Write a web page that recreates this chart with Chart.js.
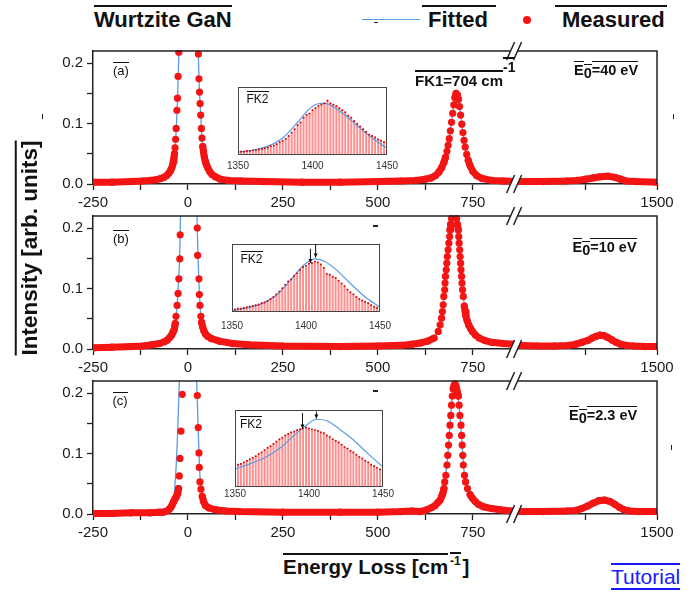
<!DOCTYPE html>
<html>
<head>
<meta charset="utf-8">
<script src="https://cdn.jsdelivr.net/npm/chart.js@4.4.0/dist/chart.umd.min.js"></script>
<style>
  body { margin: 0; width: 700px; height: 594px; position: relative; overflow: hidden; background: #fff;
         font-family: "Liberation Sans", Arial, sans-serif; color: #111; }
  canvas { position: absolute; }
  .t { position: absolute; white-space: nowrap; line-height: 1; }
  .ol { border-top: 2px solid #111; }
  .ol1 { border-top: 1.5px solid #111; }
  .b { font-weight: bold; }
  .mk { position: absolute; background: #222; }
</style>
</head>
<body>
<canvas id="panelA"></canvas>
<canvas id="panelB"></canvas>
<canvas id="panelC"></canvas>
<canvas id="insetA"></canvas>
<canvas id="insetB"></canvas>
<canvas id="insetC"></canvas>

<!-- legend row -->
<div class="t b" style="left:94px;top:9px;font-size:22px"><span class="ol">Wurtzite GaN</span></div>
<div style="position:absolute;left:362px;top:18.5px;width:58px;height:1.5px;background:#5b9be0"></div>
<div class="mk" style="left:374px;top:21.5px;width:4px;height:1.5px"></div>
<div class="t b" style="left:422px;top:9px;font-size:22px"><span class="ol" style="padding:0 8px 0 6px">Fitted</span></div>
<div style="position:absolute;left:522.5px;top:16px;width:8px;height:8px;border-radius:50%;background:#f41414"></div>
<div class="t b" style="left:555px;top:9px;font-size:22px"><span class="ol" style="padding:0 2px 0 7px">Measured</span></div>

<!-- panel annotations -->
<div class="t" style="left:113px;top:64.3px;font-size:13px"><span class="ol1">(a)</span></div>
<div class="t" style="left:113px;top:232.3px;font-size:13px"><span class="ol1">(b)</span></div>
<div class="t" style="left:112.5px;top:394.3px;font-size:13px"><span class="ol1">(c)</span></div>

<div class="t b" style="left:574px;top:63px;font-size:14.5px"><span class="ol1">E</span><span class="ol1" style="position:relative;top:3px">0</span><span class="ol1">=40 eV</span></div>
<div class="t b" style="left:572.5px;top:240px;font-size:14.5px"><span class="ol1">E</span><span class="ol1" style="position:relative;top:3px">0</span><span class="ol1">=10 eV</span></div>
<div class="t b" style="left:569px;top:408px;font-size:14.5px"><span class="ol1">E</span><span class="ol1" style="position:relative;top:3px">0</span><span class="ol1">=2.3 eV</span></div>

<div class="t b" style="left:415px;top:73px;font-size:15px"><span class="ol">FK1=704 cm</span></div>
<div class="t b" style="left:503px;top:60.2px;font-size:14px"><span class="ol">-1</span></div>

<div class="t" style="left:246.5px;top:93.4px;font-size:12px"><span class="ol1">FK2</span></div>
<div class="t" style="left:240.5px;top:253.4px;font-size:12px"><span class="ol1">FK2</span></div>
<div class="t" style="left:240px;top:418.4px;font-size:12px"><span class="ol1">FK2</span></div>

<!-- axis titles -->
<div class="t b" style="left:30px;top:247.5px;font-size:22.5px;transform:translate(-50%,-50%) rotate(-90deg)"><span class="ol">Intensity [arb. units]</span></div>
<div class="t b" style="left:283px;top:556.5px;font-size:20.5px"><span class="ol">Energy Loss [cm</span></div>
<div class="t b" style="left:450px;top:555.4px;font-size:12px"><span class="ol">-1</span></div>
<div class="t b" style="left:462.5px;top:556.5px;font-size:20.5px">]</div>

<div class="t" style="left:611px;top:565.8px;font-size:21px;color:#1a1aff"><span style="border-top:2px solid #1a1aff;border-bottom:2px solid #1a1aff">Tutorial</span></div>

<!-- stray marks of the original -->
<div class="mk" style="left:41.5px;top:114px;width:1.5px;height:5px"></div>
<div class="mk" style="left:672.5px;top:114px;width:1.5px;height:5px"></div>
<div class="mk" style="left:670.5px;top:445px;width:1.5px;height:5px"></div>
<div class="mk" style="left:373px;top:225px;width:5px;height:1.5px"></div>
<div class="mk" style="left:373px;top:390px;width:5px;height:1.5px"></div>

<script>
Chart.defaults.font.family = '"Liberation Sans", Arial, sans-serif'
Chart.defaults.color = '#1a1a1a'

// ---- x axis with a break: left part ends at BREAK_LO, right part starts at BREAK_HI (drawn 1.5x wider)
const BREAK_LO = 860
const BREAK_HI = 1250
const RIGHT_STRETCH = 1.5
const xTickLabels = [-250, 0, 250, 500, 750, 1500]
const xMinorTicks = [-125, 125, 375, 625, 1375]
const yTicks = [0, 0.05, 0.1, 0.15, 0.2]
const yTickLabels = [0, 0.1, 0.2]
const insetTicks = [1350, 1400, 1450]

// ---- measured spectra [energy loss cm-1, intensity]
const measuredA = [
  [-250,.003],[-200,.003],[-150,.004],[-120,.005],[-100,.006],[-85,.007],[-72,.009],[-63,.011],[-56,.014],
  [-50,.018],[-46,.022],[-43,.026],[-40.5,.031],[-38.5,.037],[-37,.043],[-35.5,.050],[-34,.060],[-32.5,.074],
  [-31,.092],[-29,.122],[-27.5,.142],[-26,.178],[-24,.218],[-23,.25],
  [27,.25],[27.5,.215],[29,.174],[30.5,.152],[32,.133],[33.5,.114],[35.5,.092],[37,.076],[39,.062],[41,.053],
  [43,.045],[45.5,.038],[48.5,.032],[52,.027],[57,.021],[63,.016],[72,.012],[85,.008],[105,.006],[140,.005],
  [200,.004],[300,.003],[400,.003],[500,.004],[560,.005],[600,.006],[625,.008],
  [640,.010],[652,.014],[661,.020],[668,.027],[674,.036],[678,.044],[682,.054],[685,.064],[688,.075],[691,.088],
  [694,.102],[697,.117],[700,.131],[703,.143],[706,.150],[709,.148],[712,.140],[715,.128],[718,.114],[721,.099],
  [724,.085],[727,.072],[730,.061],[734,.049],[738,.039],[743,.030],[750,.021],[760,.014],[775,.009],[800,.006],
  [830,.005],[860,.004],
  [1250,.004],[1300,.004],[1340,.005],[1360,.006],[1375,.008],[1388,.010],[1400,.012],[1414,.013],[1426,.011],
  [1436,.008],[1446,.005],[1465,.004],[1500,.003]
]
const measuredB = [
  [-250,.002],[-200,.003],[-150,.004],[-118,.005],[-95,.007],[-75,.009],[-62,.012],[-54,.015],[-48,.019],
  [-43,.023],[-40,.027],[-37,.031],[-35,.036],[-33.5,.042],[-31.5,.054],[-28.5,.072],[-26,.092],[-24,.116],
  [-21.5,.149],[-20.5,.189],[-19.5,.24],
  [24,.24],[24.5,.200],[25.5,.155],[29,.116],[30,.090],[31.6,.072],[34,.054],[36,.044],[38.5,.037],[42,.030],
  [46,.025],[52,.021],[62,.017],[83,.013],[118,.009],[160,.007],[250,.005],[400,.004],[500,.005],[560,.006],
  [590,.008],
  [613,.010],[631,.013],[648,.018],[659,.029],[664,.040],[667.6,.051],[670,.062],[672,.073],[673.6,.087],
  [676,.098],[677,.109],[678,.120],[680,.131],[681.6,.142],[683,.153],[685,.164],[687,.175],[689,.186],
  [690,.197],[691.6,.206],[694,.216],[697,.232],[700,.245],[704,.235],[707.4,.216],[709.5,.206],[711.8,.197],
  [713,.186],[714,.175],[715.5,.164],[716.7,.153],[718,.142],[719,.131],[720.5,.120],[721.6,.109],[723,.098],
  [725,.087],[727.6,.071],[730,.062],[732,.054],[735,.047],[739,.040],[744,.034],[749,.029],[757,.023],
  [767,.018],[782,.014],[800,.011],[830,.009],[860,.008],
  [1250,.006],[1290,.005],[1320,.005],[1345,.006],[1358,.008],[1368,.011],[1378,.014],[1386,.018],[1393,.021],
  [1400,.023],[1407,.022],[1414,.019],[1421,.015],[1428,.011],[1436,.008],[1446,.006],[1460,.005],[1480,.004],
  [1500,.004]
]
const measuredC = [
  [-250,.001],[-200,.001],[-150,.002],[-100,.002],[-75,.003],[-65,.003],[-55,.005],[-49,.008],[-45,.011],
  [-41,.016],[-38,.020],[-35,.024],[-32,.027],[-29.5,.030],[-27,.034],[-24.6,.042],[-22.8,.063],[-21,.092],
  [-18.4,.137],[-15,.198],[-13,.24],
  [23,.24],[24.6,.196],[27.2,.143],[29,.101],[29.8,.077],[31.6,.053],[34.2,.041],[37.7,.029],[41,.021],
  [46,.014],[55,.010],[73,.007],[100,.005],[135,.004],[250,.003],[400,.003],[500,.003],[560,.004],[590,.005],
  [611,.004],[629,.007],[643,.011],[651,.014],[658,.019],[664,.023],[668,.029],[671,.034],[674,.042],[676,.053],
  [679,.064],[682,.081],[684,.097],[686,.114],[688,.130],[690,.147],[692,.163],[694,.180],[696,.195],
  [698.5,.207],[701,.213],[703,.215],[705,.213],[707.5,.207],[710,.200],[712,.195],[714,.180],[716,.163],
  [719,.147],[720.6,.130],[722,.114],[723.5,.097],[725,.081],[728,.064],[731,.053],[736,.042],[743,.032],
  [749,.026],[756,.021],[765,.016],[778,.012],[800,.009],[822,.007],[848,.005],[860,.005],
  [1250,.004],[1300,.004],[1340,.005],[1358,.006],[1368,.009],[1378,.013],[1388,.018],[1398,.022],[1408,.023],
  [1417,.021],[1426,.016],[1434,.011],[1442,.007],[1452,.005],[1470,.004],[1500,.004]
]

// ---- fitted curves
const fittedA = [
  [-250,.003],[-150,.004],[-100,.006],[-72,.009],[-56,.014],[-46,.022],[-40,.032],[-36,.046],[-33,.066],
  [-30.5,.095],[-28,.13],[-25.5,.18],[-23.5,.23],[-20,.33],[-12,.8],[0,1.6],[14,.8],[22,.36],[26,.25],
  [29,.174],[32,.133],[35.5,.092],[39,.062],[43,.045],[52,.027],[63,.016],[85,.008],[140,.005],[300,.003],
  [500,.004],[600,.006],[640,.010],[661,.020],[674,.036],[685,.064],[694,.102],[700,.131],[706,.150],
  [712,.140],[718,.114],[727,.072],[738,.039],[750,.021],[775,.009],[830,.005],[860,.004],
  [1250,.004],[1340,.005],[1375,.008],[1400,.012],[1412,.013],[1426,.011],[1446,.005],[1500,.003]
]
const fittedB = [
  [-250,.002],[-150,.004],[-95,.007],[-62,.012],[-48,.019],[-40,.027],[-35,.037],[-32,.050],[-29,.068],
  [-26.5,.090],[-24.5,.115],[-22,.150],[-20.5,.190],[-19,.25],[-12,.6],[0,1.6],[14,.6],[22.5,.26],[24.5,.2],
  [26.5,.155],[28.5,.116],[30.5,.090],[32,.072],[34,.054],[37,.040],[42,.030],[52,.021],[83,.013],[160,.007],
  [400,.004],[560,.006],[613,.010],[648,.018],[664,.040],[672,.073],[680,.131],[689,.186],[694,.216],
  [700,.25],[707,.216],[713,.186],[719,.131],[725,.087],[732,.054],[744,.034],[767,.018],[800,.011],[860,.008],
  [1250,.006],[1320,.005],[1350,.007],[1370,.012],[1385,.018],[1397,.023],[1407,.025],[1417,.022],[1428,.014],
  [1440,.008],[1460,.005],[1500,.004]
]
const fittedC = [
  [-250,.001],[-150,.002],[-90,.003],[-65,.005],[-52,.008],[-44,.012],[-39,.020],[-36,.032],[-34,.050],
  [-31,.080],[-28,.120],[-25,.175],[-22.8,.218],[-20,.3],[-10,.9],[0,1.6],[12,.7],[21,.28],[23,.22],
  [25.5,.17],[28,.12],[31,.070],[34,.045],[38,.030],[42,.020],[48,.013],[73,.007],[135,.004],[400,.003],
  [560,.004],[611,.005],[643,.011],[664,.023],[676,.053],[684,.097],[690,.147],[696,.195],[703,.216],
  [710,.200],[716,.163],[722,.114],[728,.064],[736,.042],[749,.026],[778,.012],[848,.005],[860,.005],
  [1250,.004],[1340,.005],[1368,.009],[1388,.018],[1405,.024],[1417,.022],[1434,.012],[1452,.005],[1500,.004]
]

// ---- FK2 insets: bar heights (fraction of inset height) at each shift
const fk2Shift = [1350,1352,1354,1356,1358,1360,1362,1364,1366,1368,1370,1372,1374,1376,1378,1380,1382,1384,
  1386,1388,1390,1392,1394,1396,1398,1400,1402,1404,1406,1408,1410,1412,1414,1416,1418,1420,1422,1424,1426,
  1428,1430,1432,1434,1436,1438,1440,1442,1444,1446,1448,1450]
const fk2BarsA = [.04,.05,.05,.06,.06,.07,.07,.08,.09,.10,.11,.13,.14,.16,.19,.21,.24,.28,.33,.38,.44,.48,
  .55,.59,.61,.66,.69,.72,.74,.76,.80,.76,.74,.72,.69,.66,.63,.58,.55,.50,.46,.42,.38,.34,.30,.28,.26,.23,.21,.19,.17]
const fk2BarsB = [.03,.04,.05,.05,.06,.07,.08,.09,.10,.11,.13,.14,.16,.19,.22,.26,.30,.35,.40,.45,.48,.53,
  .57,.62,.66,.68,.71,.72,.74,.73,.70,.65,.56,.55,.52,.50,.46,.42,.38,.33,.29,.26,.22,.19,.17,.15,.13,.10,.08,.06,.05]
const fk2BarsC = [.28,.29,.30,.32,.34,.36,.38,.40,.43,.45,.48,.51,.53,.56,.59,.62,.64,.67,.69,.71,.72,.74,
  .75,.76,.77,.76,.75,.74,.73,.71,.70,.67,.65,.62,.60,.58,.55,.52,.50,.47,.45,.42,.39,.37,.34,.32,.29,.27,.25,.23,.21]
const fk2FitA = [[1350,.04],[1360,.07],[1370,.13],[1380,.25],[1390,.48],[1397,.66],[1403,.75],[1408,.76],
  [1413,.72],[1420,.62],[1430,.43],[1440,.25],[1450,.10]]
const fk2FitB = [[1350,.02],[1360,.06],[1370,.12],[1380,.25],[1390,.48],[1398,.68],[1406,.78],[1413,.74],
  [1420,.63],[1430,.42],[1440,.22],[1450,.07]]
const fk2FitC = [[1350,.23],[1360,.30],[1370,.38],[1380,.50],[1390,.67],[1398,.80],[1405,.88],[1412,.86],
  [1420,.76],[1430,.61],[1440,.43],[1450,.26]]
// marker arrows in the insets: [shift, from, to]
const fk2ArrowsB = [[1403,.93,.72],[1406.5,1.0,.80]]
const fk2ArrowsC = [[1395.6,.96,.76],[1405,.98,.89]]

const RED = '#f41414'
const BLUE = '#5b9be0'

function toAxis(x) {
  return x <= BREAK_LO ? x : BREAK_LO + (x - BREAK_HI) * RIGHT_STRETCH
}
function fromAxis(u) {
  return u <= BREAK_LO ? u : BREAK_HI + (u - BREAK_LO) / RIGHT_STRETCH
}
function toPoints(list) {
  return list.map(p => ({x: toAxis(p[0]), y: p[1]}))
}
// dots that overlap are joined by a thick line, steep sparse ones stay separate
function joinIfClose(ctx) {
  const dx = Math.abs(ctx.p1.x - ctx.p0.x)
  const dy = Math.abs(ctx.p1.y - ctx.p0.y)
  return (dy < 6 || dy < dx) ? RED : 'transparent'
}

const framePlugin = {
  id: 'frame',
  afterDraw(chart) {
    const {ctx, chartArea: a} = chart
    const bx = chart.scales.x.getPixelForValue(BREAK_LO)
    ctx.save()
    ctx.strokeStyle = '#222'
    ctx.lineWidth = 1.5
    ctx.beginPath()
    ctx.moveTo(a.left, a.top)
    ctx.lineTo(a.right, a.top)
    ctx.lineTo(a.right, a.bottom)
    ctx.stroke()
    // axis break marks
    for (const y of [a.top, a.bottom]) {
      ctx.fillStyle = '#fff'
      ctx.beginPath()
      ctx.moveTo(bx - 8, y + 9)
      ctx.lineTo(bx, y - 9)
      ctx.lineTo(bx + 7, y - 9)
      ctx.lineTo(bx - 1, y + 9)
      ctx.closePath()
      ctx.fill()
      ctx.beginPath()
      ctx.moveTo(bx - 8, y + 9); ctx.lineTo(bx, y - 9)
      ctx.moveTo(bx - 1, y + 9); ctx.lineTo(bx + 7, y - 9)
      ctx.stroke()
    }
    ctx.restore()
  }
}

const PANEL_H = 133
function makePanel(id, top, measured, fitted) {
  const cv = document.getElementById(id)
  cv.width = 700
  cv.height = 14 + PANEL_H + 32
  cv.style.left = '0px'
  cv.style.top = (top - 14) + 'px'
  new Chart(cv, {
    type: 'line',
    data: {
      datasets: [{
        data: toPoints(measured),
        borderColor: RED,
        borderWidth: 7,
        borderCapStyle: 'round',
        borderJoinStyle: 'round',
        pointRadius: 3.6,
        pointBackgroundColor: RED,
        pointBorderWidth: 0,
        tension: 0,
        segment: {borderColor: joinIfClose},
        clip: {left: 0, top: 1, right: 0, bottom: 8}
      }, {
        data: toPoints(fitted),
        borderColor: BLUE,
        borderWidth: 1.3,
        pointRadius: 0,
        cubicInterpolationMode: 'monotone',
        clip: {left: 0, top: 0, right: 0, bottom: 2}
      }]
    },
    options: {
      responsive: false,
      animation: false,
      events: [],
      layout: {padding: {top: 14, right: 43, left: 0, bottom: 0}},
      plugins: {legend: {display: false}, tooltip: {enabled: false}},
      scales: {
        x: {
          type: 'linear',
          min: toAxis(-250),
          max: toAxis(1500),
          afterFit: s => { s.height = 32 },
          afterBuildTicks: s => {
            s.ticks = xTickLabels.concat(xMinorTicks).sort((a, b) => a - b).map(v => ({value: toAxis(v)}))
          },
          ticks: {
            autoSkip: false, maxRotation: 0, padding: 4,
            font: {size: 15}, color: '#1a1a1a',
            callback: v => {
              const x = Math.round(fromAxis(v))
              return xTickLabels.includes(x) ? String(x) : ''
            }
          },
          grid: {drawOnChartArea: false, tickLength: 6, tickWidth: 1.3, tickColor: '#222'},
          border: {color: '#222', width: 1.5}
        },
        y: {
          min: 0,
          max: 0.22,
          afterFit: s => { s.width = 93 },
          afterBuildTicks: s => { s.ticks = yTicks.map(v => ({value: v})) },
          ticks: {
            padding: 4, font: {size: 15}, color: '#1a1a1a',
            callback: v => yTickLabels.some(t => Math.abs(t - v) < 1e-6) ? v.toFixed(1) : ''
          },
          grid: {drawOnChartArea: false, tickLength: 6, tickWidth: 1.3, tickColor: '#222'},
          border: {color: '#222', width: 1.5}
        }
      }
    },
    plugins: [framePlugin]
  })
}

makePanel('panelA', 51, measuredA, fittedA)
makePanel('panelB', 216, measuredB, fittedB)
makePanel('panelC', 381, measuredC, fittedC)

// ---- insets
function insetPlugin(arrows) {
  return {
    id: 'insetBox',
    beforeDraw(chart) {
      const {ctx, chartArea: a} = chart
      ctx.save()
      ctx.fillStyle = '#fff'
      ctx.fillRect(a.left, a.top, a.right - a.left, a.bottom - a.top)
      ctx.restore()
    },
    afterDraw(chart) {
      const {ctx, chartArea: a, scales} = chart
      ctx.save()
      ctx.strokeStyle = '#444'
      ctx.lineWidth = 1
      ctx.strokeRect(a.left + 0.5, a.top + 0.5, a.right - a.left - 1, a.bottom - a.top - 1)
      ctx.strokeStyle = '#111'
      ctx.fillStyle = '#111'
      for (const [x, y0, y1] of arrows) {
        const px = scales.x.getPixelForValue(x)
        const p0 = scales.y.getPixelForValue(y0)
        const p1 = scales.y.getPixelForValue(y1)
        ctx.beginPath()
        ctx.moveTo(px, p0)
        ctx.lineTo(px, p1)
        ctx.stroke()
        ctx.beginPath()
        ctx.moveTo(px - 2, p1 - 4)
        ctx.lineTo(px + 2, p1 - 4)
        ctx.lineTo(px, p1)
        ctx.closePath()
        ctx.fill()
      }
      ctx.restore()
    }
  }
}

function makeInset(id, box, bars, fit, arrows, labelPad) {
  const cv = document.getElementById(id)
  cv.width = (box.r - box.l) + 40
  cv.height = (box.b - box.t) + 4 + 20
  cv.style.left = (box.l - 20) + 'px'
  cv.style.top = (box.t - 4) + 'px'
  const tops = fk2Shift.map((x, i) => ({x: x, y: bars[i]}))
  new Chart(cv, {
    type: 'bar',
    data: {
      datasets: [{
        type: 'line',
        data: tops,
        showLine: false,
        pointStyle: 'rect',
        pointRadius: 1.2,
        pointBackgroundColor: '#d40000',
        pointBorderWidth: 0
      }, {
        type: 'line',
        data: fit.map(p => ({x: p[0], y: p[1]})),
        borderColor: BLUE,
        borderWidth: 1.2,
        pointRadius: 0,
        cubicInterpolationMode: 'monotone'
      }, {
        type: 'bar',
        data: tops,
        backgroundColor: 'rgba(255,50,50,0.55)',
        barThickness: 1.3
      }]
    },
    options: {
      responsive: false,
      animation: false,
      events: [],
      layout: {padding: {top: 4, right: 20, left: 20, bottom: 0}},
      plugins: {legend: {display: false}, tooltip: {enabled: false}},
      scales: {
        x: {
          type: 'linear',
          min: 1350,
          max: 1450,
          offset: false,
          afterFit: s => { s.height = 20 },
          afterBuildTicks: s => { s.ticks = insetTicks.map(v => ({value: v})) },
          ticks: {
            autoSkip: false, maxRotation: 0, padding: labelPad, font: {size: 10}, color: '#333',
            callback: v => String(v)
          },
          grid: {display: true, drawOnChartArea: false, drawTicks: false},
          border: {display: false}
        },
        y: {display: false, min: 0, max: 1}
      }
    },
    plugins: [insetPlugin(arrows)]
  })
}

makeInset('insetA', {l: 238, t: 87, r: 387, b: 155}, fk2BarsA, fk2FitA, [], 5)
makeInset('insetB', {l: 232, t: 244, r: 380, b: 312}, fk2BarsB, fk2FitB, fk2ArrowsB, 8)
makeInset('insetC', {l: 235, t: 410, r: 383, b: 487}, fk2BarsC, fk2FitC, fk2ArrowsC, 1)
</script>
</body>
</html>
